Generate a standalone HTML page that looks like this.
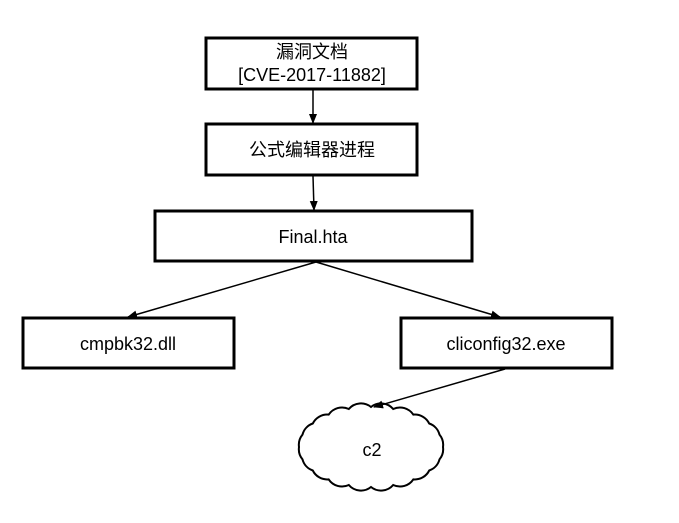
<!DOCTYPE html>
<html><head><meta charset="utf-8"><style>
body{margin:0;background:#fff;}
svg text{font-family:"Liberation Sans","Noto Sans CJK SC",sans-serif;font-size:18px;fill:#000;text-anchor:middle;}
</style></head><body>
<svg width="679" height="518" viewBox="0 0 679 518">
<defs><marker id="a" markerWidth="10" markerHeight="10" refX="9" refY="5" orient="auto" markerUnits="userSpaceOnUse"><path d="M0,1 L10,5 L0,9 Z" fill="#000"/></marker></defs>
<g fill="#fff" stroke="#000" stroke-width="3">
<rect x="206" y="38" width="211" height="51"/>
<rect x="206" y="124" width="211" height="51"/>
<rect x="155" y="211" width="317" height="50"/>
<rect x="23" y="318" width="211" height="50"/>
<rect x="401" y="318" width="211" height="50"/>
</g>
<path fill="#fff" stroke="#000" stroke-width="2" d="M443,447 A16,16 0 0 1 439.5,459.4 A16,16 0 0 1 429.2,470.5 A16,16 0 0 1 413.3,479.4 A16,16 0 0 1 393.2,485 A16,16 0 0 1 371,487 A16,16 0 0 1 348.8,485 A16,16 0 0 1 328.7,479.4 A16,16 0 0 1 312.8,470.5 A16,16 0 0 1 302.5,459.4 A16,16 0 0 1 299,447 A16,16 0 0 1 302.5,434.6 A16,16 0 0 1 312.8,423.5 A16,16 0 0 1 328.7,414.6 A16,16 0 0 1 348.8,409 A16,16 0 0 1 371,407 A16,16 0 0 1 393.2,409 A16,16 0 0 1 413.3,414.6 A16,16 0 0 1 429.2,423.5 A16,16 0 0 1 439.5,434.6 A16,16 0 0 1 443,447 Z"/>
<g stroke="#000" stroke-width="1.5" marker-end="url(#a)">
<line x1="313" y1="90" x2="313" y2="123"/>
<line x1="313" y1="176" x2="314" y2="210"/>
<line x1="316" y1="262" x2="128" y2="317"/>
<line x1="316" y1="262" x2="500" y2="317"/>
<line x1="505" y1="369" x2="374" y2="407"/>
</g>
<text x="312" y="58">漏洞文档</text>
<text x="312" y="81">[CVE-2017-11882]</text>
<text x="312" y="156">公式编辑器进程</text>
<text x="313" y="243">Final.hta</text>
<text x="128" y="350">cmpbk32.dll</text>
<text x="506" y="350">cliconfig32.exe</text>
<text x="372" y="456">c2</text>
</svg>
</body></html>
